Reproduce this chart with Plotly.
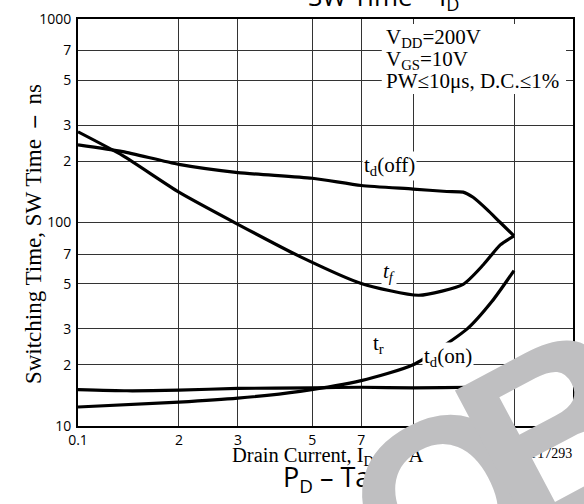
import plotly.graph_objects as go

# Drain current (A) and switching times (ns) for each curve
id_td_off = [0.1, 0.136, 0.2, 0.3, 0.5, 0.7, 1.0, 1.26, 1.41, 1.51, 1.66, 1.82, 2.0]
td_off = [241, 223, 193, 176, 165, 152, 146, 142, 141, 133, 116, 100, 86]

id_tf = [0.1, 0.136, 0.2, 0.3, 0.46, 0.7, 1.04, 1.41, 1.62, 1.82, 2.0]
tf = [279, 213, 141, 98, 68, 50.2, 43.9, 49.7, 62, 77.6, 86]

id_tr = [0.1, 0.2, 0.3, 0.46, 0.7, 1.0, 1.45, 1.72, 2.0]
tr = [12.4, 13.1, 13.7, 14.8, 16.7, 20, 30, 41, 58]

id_td_on = [0.1, 0.14, 0.2, 0.3, 0.5, 0.7, 1.0, 1.5, 2.0]
td_on = [15.1, 14.9, 15.0, 15.3, 15.4, 15.5, 15.4, 15.5, 15.5]

x_tickvals = [0.1, 0.2, 0.3, 0.5, 0.7, 1.0, 2.0, 3.0]
x_ticktext = ["0.1", "2", "3", "5", "7", "1.0", "2", ""]
y_tickvals = [10, 20, 30, 50, 70, 100, 200, 300, 500, 700, 1000]
y_ticktext = ["10", "2", "3", "5", "7", "100", "2", "3", "5", "7", "1000"]

SERIF = "Liberation Serif"
SANS = "Open Sans"

fig = go.Figure()
for xs, ys in [(id_td_off, td_off), (id_tf, tf), (id_tr, tr), (id_td_on, td_on)]:
    fig.add_trace(go.Scatter(
        x=xs, y=ys, mode="lines",
        line=dict(color="black", width=3.2, shape="spline", smoothing=0.6),
        showlegend=False, hoverinfo="skip",
    ))

axis_common = dict(
    showline=True, linecolor="black", linewidth=2, mirror=True,
    showgrid=True, gridcolor="#333333", gridwidth=1,
    ticks="", zeroline=False,
    tickfont=dict(family=SANS, size=14, color="black"),
)
fig.update_xaxes(type="log", range=[-1, 0.4771], tickvals=x_tickvals,
                 ticktext=x_ticktext, **axis_common)
fig.update_yaxes(type="log", range=[1, 3], tickvals=y_tickvals,
                 ticktext=y_ticktext, ticklabelstandoff=2, **axis_common)


def px(xp):
    return (xp - 78) / 497


def py(yp):
    return (426 - yp) / 412


# white panel behind the test conditions
fig.add_shape(type="rect", xref="paper", yref="paper",
              x0=px(383), x1=px(568), y0=py(90), y1=py(19),
              fillcolor="white", line=dict(width=0), layer="above")

cond = ["V<sub>DD</sub>=200V", "V<sub>GS</sub>=10V", "PW≤10μs, D.C.≤1%"]
cond_y = [33, 56, 77]
for t, yp in zip(cond, cond_y):
    fig.add_annotation(x=px(385), y=py(yp), xref="paper", yref="paper",
                       text=t, showarrow=False, xanchor="left", yanchor="middle",
                       font=dict(family=SERIF, size=21, color="black"))

curve_labels = [
    ("t<sub>d</sub>(off)", 391, 163),
    ("<i>t<sub>f</sub></i>", 390, 270),
    ("t<sub>r</sub>", 380, 358),
    ("t<sub>d</sub>(on)", 476, 371),
]
for t, xp, yp in curve_labels:
    fig.add_annotation(x=px(xp), y=py(yp), xref="paper", yref="paper",
                       text=t, showarrow=False, bgcolor="white", borderpad=1,
                       font=dict(family=SERIF, size=21, color="black"))

# axis titles
fig.add_annotation(x=px(19), y=py(232), xref="paper", yref="paper",
                   text="Switching Time, SW Time  <b>–</b>  ns", textangle=-90,
                   showarrow=False, font=dict(family=SERIF, size=23, color="black"))
fig.add_annotation(x=px(329), y=py(472), xref="paper", yref="paper",
                   text="Drain Current, I<sub>D</sub>   <b>–</b>  A",
                   showarrow=False, font=dict(family=SERIF, size=20.5, color="black"))
fig.add_annotation(x=px(576), y=py(463), xref="paper", yref="paper",
                   text="IT17293", xanchor="right", showarrow=False,
                   font=dict(family=SERIF, size=14, color="black"))

# chart titles at the page edges
fig.add_annotation(x=px(385), y=py(13), xref="paper", yref="paper",
                   text="SW Time – I<sub>D</sub>", yanchor="bottom", showarrow=False,
                   font=dict(family=SANS, size=26, color="black"))
fig.add_annotation(x=px(282), y=py(502), xref="paper", yref="paper",
                   text="P<sub>D</sub> – Ta", xanchor="left", yanchor="bottom",
                   showarrow=False, font=dict(family=SANS, size=27, color="black"))

# diagonal watermark letters, each rotated about its own centre
wm_angle = 28.0
wm_letters = [("O", 448, 500, 235), ("B", 562, 432, 250)]
for ch, cx, cy, size in wm_letters:
    fig.add_annotation(x=px(cx), y=py(cy), xref="paper", yref="paper",
                       text=f"<b>{ch}</b>", textangle=-wm_angle, showarrow=False,
                       xanchor="center", yanchor="middle",
                       font=dict(family="Liberation Sans", size=size,
                                 color="#bfbfc1"))

fig.update_layout(
    width=584, height=504,
    margin=dict(l=78, r=9, t=14, b=78),
    paper_bgcolor="white", plot_bgcolor="white",
)

fig.write_html("out.html")
